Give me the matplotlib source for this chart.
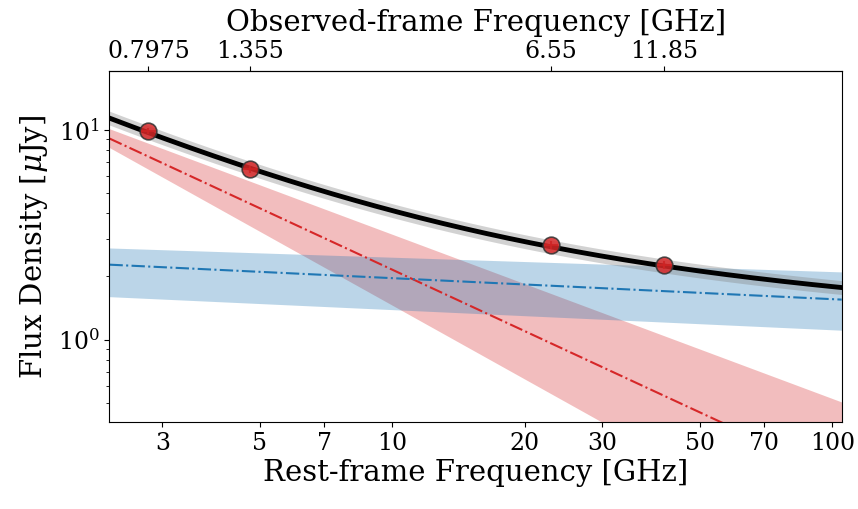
import numpy as np
import matplotlib
matplotlib.use("Agg")
import matplotlib.pyplot as plt
from matplotlib.ticker import NullLocator, FixedLocator, FixedFormatter

plt.rcParams['font.family'] = ['DejaVu Serif']
plt.rcParams['mathtext.fontset'] = 'custom'
plt.rcParams['mathtext.rm'] = 'DejaVu Serif'
plt.rcParams['mathtext.it'] = 'DejaVu Serif:italic'

# observed data
one_plus_z = 3.5
obs_freq = [0.7975, 1.355, 6.55, 11.85]
flux = [9.85, 6.49, 2.81, 2.26]
flux_err = [0.35, 0.25, 0.12, 0.10]

# model components: value at 10 GHz (rest) and spectral index
sync_s10, sync_alpha = 2.15, -0.972
sync_hi_s10, sync_hi_alpha = 3.17, -0.782
sync_lo_s10, sync_lo_alpha = 1.456, -1.168
ff_s10, ff_alpha = 1.96, -0.10
ff_hi_s10, ff_hi_alpha = 2.466, -0.0685
ff_lo_s10, ff_lo_alpha = 1.388, -0.096
total_band_dex = 0.033

xticks_rest = [3, 5, 7, 10, 20, 30, 50, 70, 100]
xlim = (2.276, 105)
ylim = (0.405, 19.0)


def plaw(nu, s10, alpha):
    return s10 * (nu / 10.0) ** alpha


rest_freq = np.array(obs_freq) * one_plus_z
nu = np.logspace(np.log10(xlim[0]), np.log10(xlim[1]), 300)

sync = plaw(nu, sync_s10, sync_alpha)
ff = plaw(nu, ff_s10, ff_alpha)
total = sync + ff

fig = plt.figure(figsize=(8.58, 5.09), dpi=100)
ax = fig.add_axes([0.1276, 0.171, 0.8534, 0.6895])

ax.fill_between(nu, plaw(nu, sync_lo_s10, sync_lo_alpha), plaw(nu, sync_hi_s10, sync_hi_alpha),
                color='tab:red', alpha=0.3, lw=0)
ax.fill_between(nu, plaw(nu, ff_lo_s10, ff_lo_alpha), plaw(nu, ff_hi_s10, ff_hi_alpha),
                color='tab:blue', alpha=0.3, lw=0)
ax.fill_between(nu, total / 10 ** total_band_dex, total * 10 ** total_band_dex,
                color='grey', alpha=0.35, lw=0)
ax.plot(nu, sync, ls='-.', color='tab:red', lw=1.5)
ax.plot(nu, ff, ls='-.', color='tab:blue', lw=1.5)
ax.plot(nu, total, color='black', lw=3.5)

ax.errorbar(rest_freq, flux, yerr=flux_err, xerr=np.array(rest_freq) * 0.04, fmt='o',
            ms=12, mfc='tab:red', mec='#333333', mew=1.2, ecolor='#a01010',
            elinewidth=1.5, capsize=0, alpha=0.85, zorder=5)

ax.set_xscale('log')
ax.set_yscale('log')
ax.set_xlim(*xlim)
ax.set_ylim(*ylim)
ax.xaxis.set_major_locator(FixedLocator(xticks_rest))
ax.xaxis.set_major_formatter(FixedFormatter([str(t) for t in xticks_rest]))
ax.xaxis.set_minor_locator(NullLocator())
ax.tick_params(labelsize=17)
ax.set_xlabel('Rest-frame Frequency [GHz]', fontsize=21, labelpad=3)
ax.set_ylabel(r'Flux Density [$\mu$Jy]', fontsize=21, labelpad=6)

top = ax.secondary_xaxis('top', functions=(lambda x: x / one_plus_z, lambda x: x * one_plus_z))
top.xaxis.set_major_locator(FixedLocator(obs_freq))
top.xaxis.set_major_formatter(FixedFormatter([str(f) for f in obs_freq]))
top.xaxis.set_minor_locator(NullLocator())
top.tick_params(labelsize=17, pad=2)
top.set_xlabel('Observed-frame Frequency [GHz]', fontsize=21, labelpad=7)

fig.savefig('out.png', dpi=100)
